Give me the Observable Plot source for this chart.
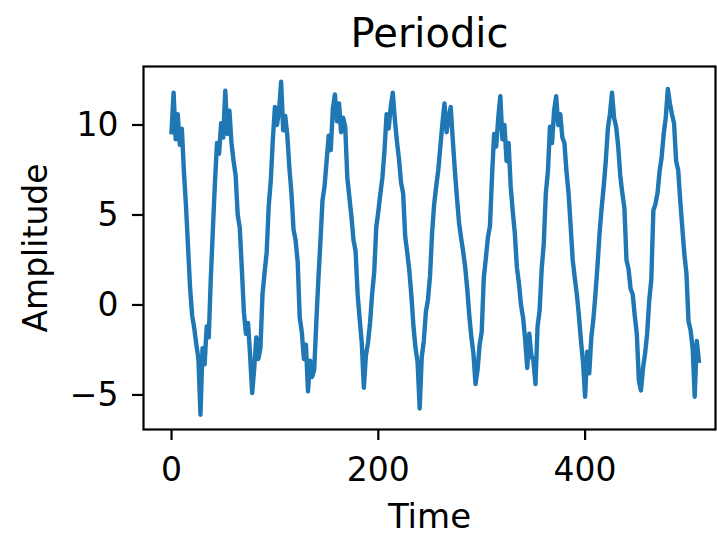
<!DOCTYPE html>
<html>
<head>
<meta charset="utf-8">
<script src="https://cdn.jsdelivr.net/npm/d3@7"></script>
<script src="https://cdn.jsdelivr.net/npm/@observablehq/plot@0.6"></script>
<style>
  html, body { margin: 0; padding: 0; background: white; }
</style>
</head>
<body>
<div id="chart"></div>
<script>
const titleText = "Periodic";
const xLabel = "Time";
const yLabel = "Amplitude";
const xTicks = [0, 200, 400];
const yTicks = [-5, 0, 5, 10];
const timeStep = 2;
const amplitude = [
  9.6, 11.8, 9.2, 10.6, 8.9, 9.8, 7.4, 5.5, 3.2, 0.9, -0.6, -1.3, -2.2, -3.0, -6.1, -2.4,
  -3.3, -1.2, -1.8, 1.5, 4.2, 6.8, 9.0, 8.4, 10.1, 9.3, 11.9, 9.5, 10.8, 9.0, 8.0, 7.2,
  5.0, 4.3, 2.0, -0.4, -1.6, -1.0, -2.8, -4.9, -3.5, -1.8, -3.0, -2.4, 0.6, 1.8, 2.9, 5.5,
  6.9, 9.2, 11.0, 10.0, 10.8, 12.4, 9.7, 10.5, 9.4, 7.6, 6.2, 4.2, 3.6, 2.4, -0.7, -1.5,
  -3.0, -2.2, -4.8, -3.1, -4.0, -3.6, -1.0, 1.4, 3.5, 5.8, 6.6, 8.0, 9.4, 8.6, 10.9, 11.7,
  10.2, 11.2, 9.6, 10.4, 9.9, 7.1, 6.0, 4.9, 3.6, 3.0, 0.6, -0.8, -2.1, -4.6, -2.8, -2.1,
  -1.0, 0.6, 1.8, 4.3, 5.2, 6.2, 7.1, 8.6, 10.6, 9.8, 11.0, 11.8, 10.3, 9.1, 8.1, 6.8,
  6.2, 3.8, 2.9, 1.9, 0.5, -1.2, -2.4, -3.2, -5.75, -2.9, -2.0, -0.4, 0.3, 1.6, 4.0, 5.6,
  6.6, 7.5, 8.8, 10.1, 11.2, 9.6, 10.4, 11.0, 9.2, 7.5, 6.0, 4.6, 3.75, 3.0, 2.1, 0.9,
  -0.6, -1.8, -2.7, -4.4, -3.6, -2.2, -1.5, 1.5, 2.6, 3.75, 4.4, 7.2, 9.5, 8.8, 10.4, 11.6,
  9.2, 10.0, 8.0, 9.0, 6.6, 5.2, 4.0, 2.1, 1.2, 0.0, -0.7, -1.9, -3.5, -1.6, -2.8, -3.1,
  -4.4, -1.2, -0.3, 2.0, 3.4, 6.2, 7.4, 9.9, 9.0, 10.8, 11.6, 10.0, 10.6, 9.3, 9.0, 7.4,
  6.2, 4.4, 2.5, 1.5, 0.6, -0.6, -2.0, -3.2, -5.1, -2.6, -3.8, -1.8, -0.8, 0.6, 2.2, 4.0,
  5.4, 6.6, 8.0, 9.8, 10.6, 11.8, 10.4, 9.9, 8.8, 7.2, 6.2, 5.4, 2.5, 2.0, 0.9, 0.6,
  -0.6, -1.6, -4.2, -4.75, -3.5, -2.7, -1.6, 0.25, 1.4, 5.25, 5.6, 6.2, 7.4, 8.2, 9.5, 10.4,
  12.0, 11.2, 10.6, 10.1, 8.0, 7.5, 5.8, 4.3, 2.8, 1.75, -0.9, -1.4, -2.4, -5.1, -2.0, -3.1
];
const time = amplitude.map((_, i) => i * timeStep);
const data = amplitude.map((a, i) => ({time: time[i], amplitude: a}));

const chart = Plot.plot({
  width: 717,
  height: 534,
  marginLeft: 143,
  marginRight: 2,
  marginTop: 66,
  marginBottom: 105,
  style: {fontFamily: "'DejaVu Sans', sans-serif", fontSize: "33px", color: "black", background: "white"},
  x: {domain: [-27.1, 526.1]},
  y: {domain: [-6.92, 13.25]},
  marks: [
    Plot.line(data, {x: "time", y: "amplitude", stroke: "#1f77b4", strokeWidth: 4.4, strokeLinejoin: "round", strokeLinecap: "square"}),
    Plot.frame({stroke: "black", strokeWidth: 2.2}),
    Plot.axisX({ticks: xTicks, tickSize: 11, tickPadding: 17, strokeWidth: 2.2, label: null, fontSize: 33, tickFormat: d => String(d)}),
    Plot.axisY({ticks: yTicks, tickSize: 11, tickPadding: 14, strokeWidth: 2.2, label: null, fontSize: 33, tickFormat: d3.format("d")}),
    Plot.text([titleText], {text: d => d, frameAnchor: "top", lineAnchor: "bottom", dy: -20, fontSize: 40}),
    Plot.text([xLabel], {text: d => d, frameAnchor: "bottom", lineAnchor: "bottom", dy: 98, fontSize: 34}),
    Plot.text([yLabel], {text: d => d, frameAnchor: "left", textAnchor: "middle", lineAnchor: "bottom", rotate: -90, dx: -97, fontSize: 33})
  ]
});
document.getElementById("chart").appendChild(chart);
</script>
</body>
</html>
